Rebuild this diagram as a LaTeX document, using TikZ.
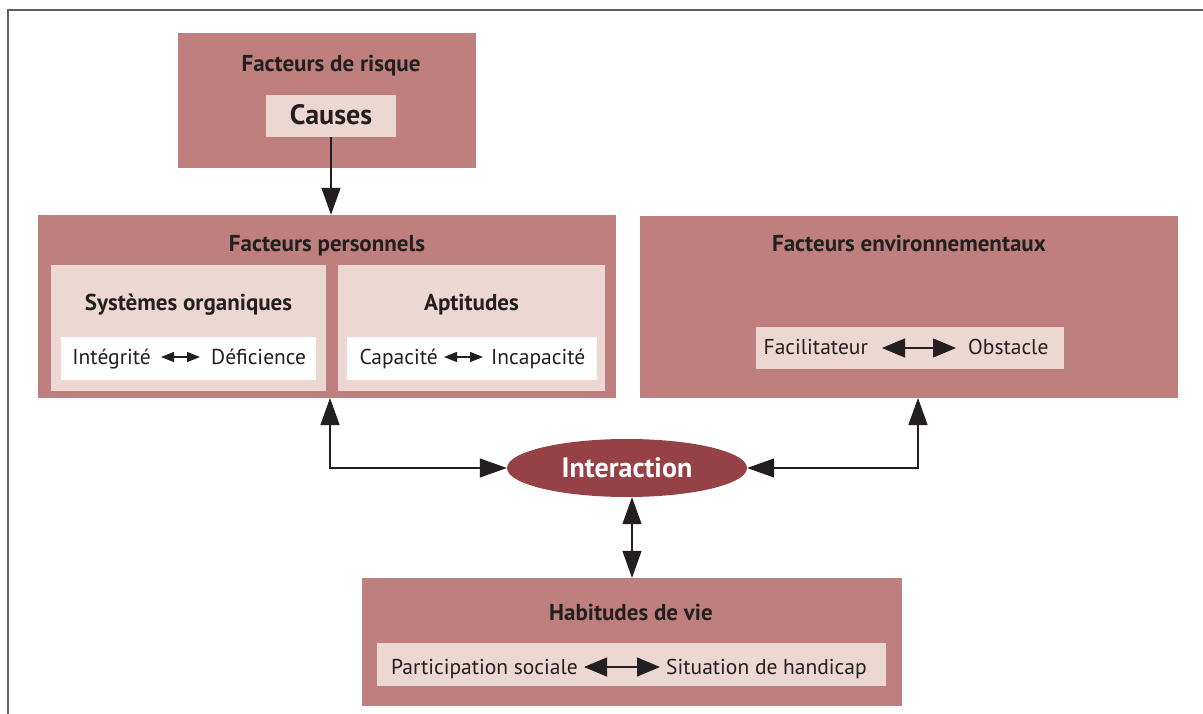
\documentclass[tikz,border=0pt]{standalone}
\usepackage{fontspec}
\setmainfont{PT Sans}
\usetikzlibrary{arrows.meta,shapes.geometric}
\definecolor{boxmid}{RGB}{191,128,125}
\definecolor{boxlight}{RGB}{236,215,211}
\definecolor{ellred}{RGB}{150,65,70}
\definecolor{ink}{RGB}{35,31,32}
\definecolor{framegray}{RGB}{95,95,95}
\begin{document}
\begin{tikzpicture}[x=1pt,y=-1pt,
  panel/.style={rectangle, fill=boxmid, draw=none, inner sep=0pt},
  subpanel/.style={rectangle, fill=boxlight, draw=none, inner sep=0pt},
  whitepanel/.style={rectangle, fill=white, draw=none, inner sep=0pt},
  ttl/.style={font=\bfseries\fontsize{23}{27}\selectfont, text=ink, inner sep=0pt, anchor=base},
  word/.style={font=\fontsize{21.5}{25}\selectfont, text=ink, inner sep=0pt, text height=16pt, text depth=2pt},
  conn/.style={draw=ink, line width=1.3pt, -{Triangle[length=27pt,width=19pt]}},
  dconn/.style={draw=ink, line width=1.3pt, {Triangle[length=27pt,width=19pt]}-{Triangle[length=27pt,width=19pt]}},
  smallarr/.style={draw=ink, line width=1.2pt, {Triangle[length=13pt,width=10pt]}-{Triangle[length=13pt,width=10pt]}},
  midarr/.style={draw=ink, line width=1.2pt, {Triangle[length=23pt,width=19pt]}-{Triangle[length=23pt,width=19pt]}},
  ]
\useasboundingbox (0,0) rectangle (1203,714);
\fill[white] (0,0) rectangle (1203,714);
\draw[framegray, line width=1.5pt] (8,714) -- (8,10) -- (1203,10);

% Facteurs de risque
\node[panel, minimum width=298pt, minimum height=135pt] (risk) at (327,100.5) {};
\node[ttl] (risktitle) at (331,72) {Facteurs de risque};
\node[subpanel, minimum width=130pt, minimum height=42pt] (causes) at (331,116) {};
\node[ttl, font=\bfseries\fontsize{28}{32}\selectfont] (causestxt) at (331,124.5) {Causes};

% Facteurs personnels
\node[panel, minimum width=578pt, minimum height=183pt] (fp) at (327,306.5) {};
\node[ttl] (fptitle) at (327,252) {Facteurs personnels};
\node[subpanel, minimum width=275pt, minimum height=126pt] (so) at (188.5,328) {};
\node[subpanel, minimum width=267pt, minimum height=126pt] (apt) at (471.5,328) {};
\node[ttl] (sotitle) at (188.5,311) {Systèmes organiques};
\node[ttl] (apttitle) at (471.5,311) {Aptitudes};
\node[whitepanel, minimum width=255pt, minimum height=43pt] (sow) at (188.5,358.5) {};
\node[whitepanel, minimum width=250pt, minimum height=43pt] (aptw) at (472,358.5) {};
\node[word, anchor=east] (integ) at (151,357) {Intégrité};
\node[word, anchor=west] (defic) at (211,357) {Déficience};
\draw[smallarr, shorten <=10pt, shorten >=11pt] (integ.east) -- (defic.west);
\node[word, anchor=east] (capa) at (438,357) {Capacité};
\node[word, anchor=west] (incapa) at (491,357) {Incapacité};
\draw[smallarr, shorten <=6pt, shorten >=8pt] (capa.east) -- (incapa.west);

% Facteurs environnementaux
\node[panel, minimum width=538pt, minimum height=182pt] (fe) at (909,307) {};
\node[ttl] (fetitle) at (909,252) {Facteurs environnementaux};
\node[subpanel, minimum width=308pt, minimum height=42pt] (fein) at (909.5,348) {};
\node[word, anchor=east] (facil) at (868,348) {Facilitateur};
\node[word, anchor=west] (obst) at (968,348) {Obstacle};
\draw[midarr, shorten <=14pt, shorten >=12pt] (facil.east) -- (obst.west);

% Interaction
\node[ellipse, fill=ellred, draw=none, inner sep=0pt, minimum width=240pt, minimum height=58pt,
      font=\bfseries\fontsize{28}{32}\selectfont, text=white] (inter) at (627,468) {Interaction};

% Habitudes de vie
\node[panel, minimum width=540pt, minimum height=128pt] (hab) at (632,642) {};
\node[ttl] (habtitle) at (631,620) {Habitudes de vie};
\node[subpanel, minimum width=509pt, minimum height=43pt] (habin) at (631.5,664.5) {};
\node[word, anchor=east] (partic) at (578,667) {Participation sociale};
\node[word, anchor=west] (situ) at (666,667) {Situation de handicap};
\draw[midarr, shorten <=6pt, shorten >=6pt] (partic.east) -- (situ.west);

% connectors
\coordinate (fpb) at (330,398);
\coordinate (feb) at (918,398);
\draw[conn] (causes.south) -- (causes.south |- fp.north);
\draw[dconn] (fpb) |- (inter.west);
\draw[dconn] (inter.east) -| (feb);
\draw[dconn] (inter.south -| hab.north) -- (hab.north);
\end{tikzpicture}
\end{document}
